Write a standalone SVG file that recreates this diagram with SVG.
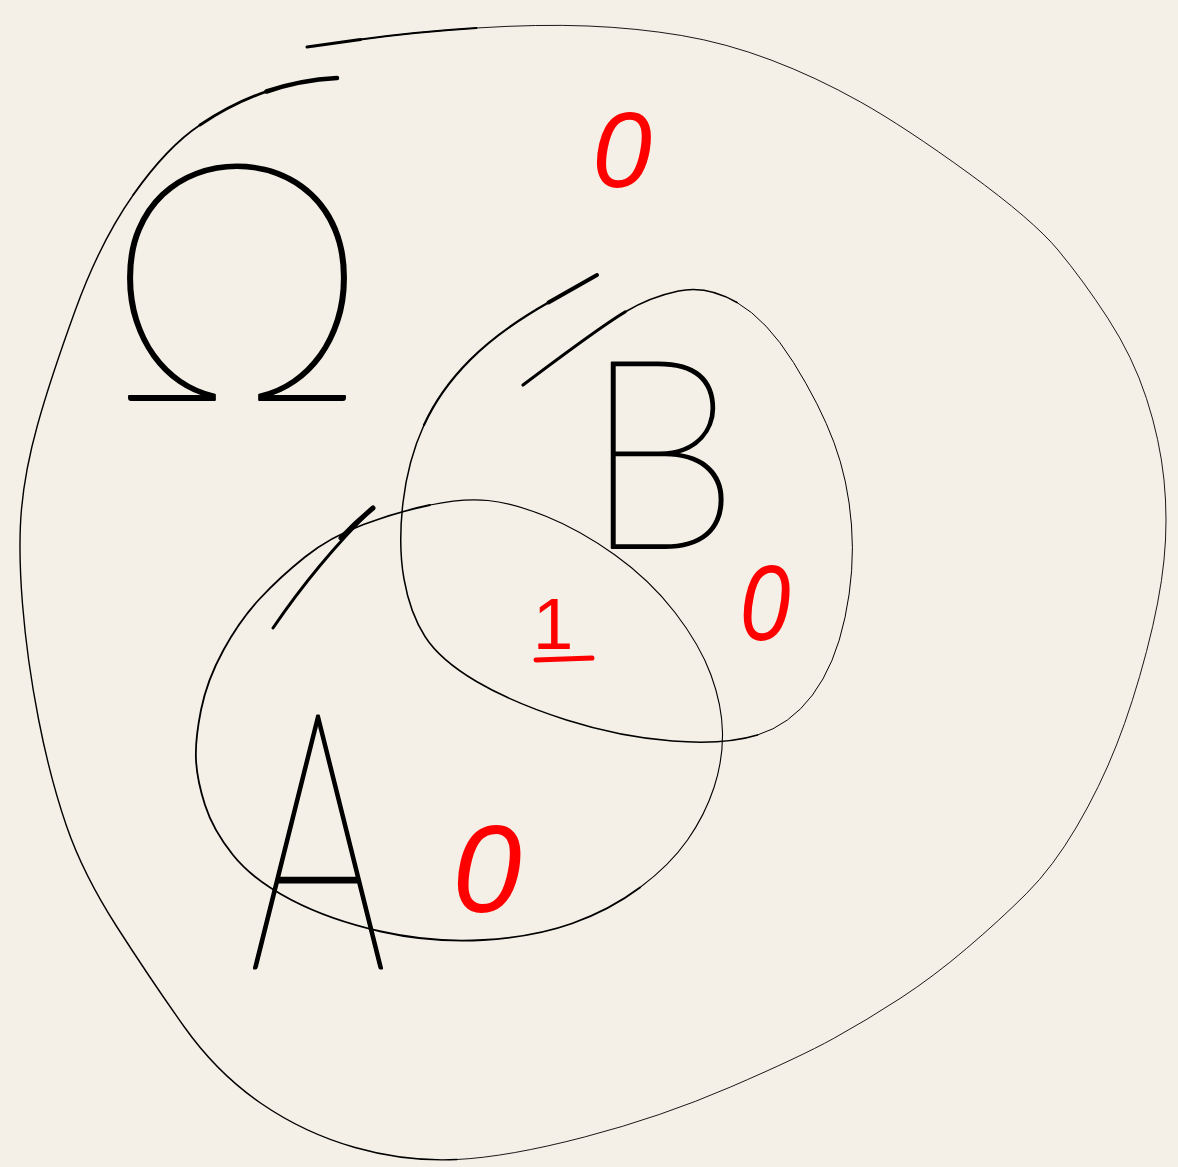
<svg xmlns="http://www.w3.org/2000/svg" width="1178" height="1167" viewBox="0 0 1178 1167">
<style>
.ln{fill:none;stroke:#000;stroke-linecap:round;stroke-linejoin:round}
.hand{font-family:Lato,"Liberation Sans",sans-serif;font-weight:100;fill:#000;stroke:#000;stroke-width:2;stroke-linejoin:round}
.red{font-family:"Liberation Sans",Arial,sans-serif;font-style:italic;fill:#ff0000}
</style>
<rect width="1178" height="1167" fill="#f4f0e7"/>
<g id="omega">
  <path class="ln" stroke-width="0.9" d="M307,47 L360.5,39.5 Q414,32 476.5,28 Q539,24 588,26 Q637,28 681.5,35.5 Q726,43 771,60 Q816,77 860.5,102 Q905,127 969,173.5 Q1033,220 1058,250 Q1083,280 1108,318.5 Q1133,357 1146.5,398.5 Q1160,440 1164,480 Q1168,520 1164,560 Q1160,600 1146.5,651.5 Q1133,703 1116.5,745 Q1100,787 1076.5,827 Q1053,867 1026.5,893.5 Q1000,920 966.5,948.5 Q933,977 900,998.5 Q867,1020 833.5,1038.5 Q800,1057 730.5,1087 Q661,1117 584.5,1137 Q508,1157 457,1159.5"/>
  <path class="ln" stroke-width="1.4" d="M457,1159.5 Q406,1162 355,1147.5 Q304,1133 260.5,1103 Q217,1073 184,1026.5 Q151,980 117,927 Q83,874 66.5,826 Q50,778 38.5,719 Q27,660 22.5,604 Q18,548 21.5,509 Q25,470 37.5,425 Q50,380 75,311 Q100,242 133.5,194.5"/>
  <path class="ln" stroke-width="1.9" d="M133.5,194.5 Q167,147 200,125"/>
  <path class="ln" stroke-width="2.8" d="M200,125 Q233,103 266.5,91.5"/>
  <path class="ln" stroke-width="4.5" d="M266.5,91.5 Q300,80 337,78"/>
  <path class="ln" stroke-width="3" d="M307,47 L360.5,39.5"/>
  <path class="ln" stroke-width="1.8" d="M360.5,39.5 Q414,32 476.5,28"/>
  <text class="hand" x="104" y="400" font-size="333" textLength="266" lengthAdjust="spacingAndGlyphs">Ω</text>
</g>
<g id="set-A">
  <path class="ln" stroke-width="1.1" d="M640,887.5 Q670,865 687.5,840 Q705,815 714,787.5 Q723,760 722.5,732.5 Q722,705 711,675 Q700,645 675,612.5 Q650,580 615,555 Q580,530 546.5,516.5 Q513,503 488,500.5 Q463,498 430,505"/>
  <path class="ln" stroke-width="1.8" d="M430,505 Q397,512 363.5,524.5 Q330,537 305,557 Q280,577 260,598.5 Q240,620 223.5,650 Q207,680 201,710 Q195,740 196,760 Q197,780 205,805 Q213,830 233,855 Q253,880 291.5,900 Q330,920 381,931.5 Q432,943 483,940 Q534,937 572,923.5 Q610,910 640,887.5"/>
  <path class="ln" stroke-width="3" d="M373,508 Q318,562 273,628"/>
  <path class="ln" stroke-width="5" d="M373,508 Q355,523 341,538"/>
  <text class="hand" transform="translate(318,968) scale(0.6,1)" text-anchor="middle" font-size="360" style="stroke-width:3">A</text>
</g>
<g id="set-B">
  <path class="ln" stroke-width="4" d="M597,275 L548.5,302.5"/>
  <path class="ln" stroke-width="2.2" d="M548.5,302.5 Q500,330 470,360 Q440,390 424,425"/>
  <path class="ln" stroke-width="1.5" d="M424,425 Q408,460 403,502.5 Q398,545 404,579 Q410,613 425,636.5 Q440,660 476.5,681.5 Q513,703 566.5,720 Q620,737 672.5,741 Q725,745 757.5,735"/>
  <path class="ln" stroke-width="1" d="M757.5,735 Q790,725 812.5,695 Q835,665 845,617.5 Q855,570 851.5,525 Q848,480 834,442.5 Q820,405 793.5,362.5 Q767,320 737,302.5"/>
  <path class="ln" stroke-width="1.6" d="M737,302.5 Q707,285 678.5,291 Q650,297 625,312"/>
  <path class="ln" stroke-width="3.2" d="M625,312 Q600,327 523,385"/>
  <text class="hand" transform="translate(661,548) scale(0.96,1)" text-anchor="middle" font-size="265">B</text>
</g>
<g id="connectors"/>
<g id="labels">
  <text class="red" x="622" y="187" font-size="107" text-anchor="middle">0</text>
  <text class="red" transform="translate(765,640) scale(0.85,1)" font-size="107" text-anchor="middle">0</text>
  <text class="red" x="487" y="912" font-size="124" text-anchor="middle">0</text>
  <text class="red" x="553" y="649" font-size="73" text-anchor="middle" style="font-style:normal">1</text>
  <line x1="536" y1="660" x2="592" y2="658" stroke="#ff0000" stroke-width="5" stroke-linecap="round"/>
</g>
</svg>
